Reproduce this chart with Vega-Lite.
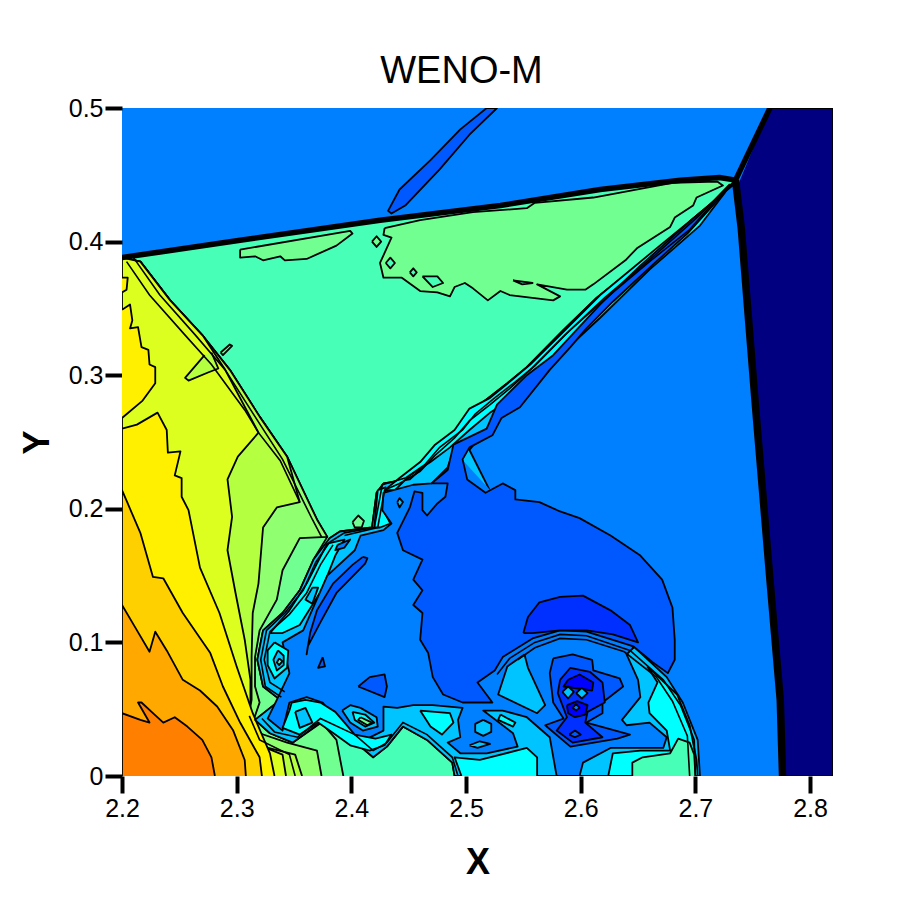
{"$schema":"https://vega.github.io/schema/vega-lite/v6.json","width":711,"height":668,"autosize":"none","padding":{"left":122,"top":108,"right":69,"bottom":126},"background":"white","view":{"fill":"#0080ff","stroke":null},"title":{"text":"WENO-M","font":"Liberation Sans","fontSize":38,"fontWeight":"normal","color":"black","dx":-16,"offset":5},
"datasets":{
"fills":[
{"p":"n","l":0,"x":2.765,"y":0.5},{"p":"n","l":0,"x":2.82,"y":0.5},{"p":"n","l":0,"x":2.82,"y":0},{"p":"n","l":0,"x":2.776,"y":0},{"p":"n","l":0,"x":2.774,"y":0.057},{"p":"n","l":0,"x":2.765,"y":0.147},{"p":"n","l":0,"x":2.752,"y":0.281},{"p":"n","l":0,"x":2.737,"y":0.442},
{"p":"st","l":2,"x":2.518,"y":0.5},{"p":"st","l":2,"x":2.527,"y":0.5},{"p":"st","l":2,"x":2.503,"y":0.48},{"p":"st","l":2,"x":2.477,"y":0.454},{"p":"st","l":2,"x":2.447,"y":0.427},{"p":"st","l":2,"x":2.435,"y":0.421},{"p":"st","l":2,"x":2.432,"y":0.423},{"p":"st","l":2,"x":2.442,"y":0.439},{"p":"st","l":2,"x":2.469,"y":0.461},{"p":"st","l":2,"x":2.495,"y":0.484},{"p":"st","l":2,"x":2.518,"y":0.5},
{"p":"a","l":6,"x":2.2,"y":0},{"p":"a","l":6,"x":2.2,"y":0.388},{"p":"a","l":6,"x":2.303,"y":0.401},{"p":"a","l":6,"x":2.425,"y":0.416},{"p":"a","l":6,"x":2.53,"y":0.427},{"p":"a","l":6,"x":2.617,"y":0.439},{"p":"a","l":6,"x":2.687,"y":0.446},{"p":"a","l":6,"x":2.721,"y":0.448},{"p":"a","l":6,"x":2.735,"y":0.446},{"p":"a","l":6,"x":2.695,"y":0.412},{"p":"a","l":6,"x":2.658,"y":0.388},{"p":"a","l":6,"x":2.614,"y":0.358},{"p":"a","l":6,"x":2.585,"y":0.334},{"p":"a","l":6,"x":2.553,"y":0.306},{"p":"a","l":6,"x":2.536,"y":0.294},{"p":"a","l":6,"x":2.515,"y":0.28},{"p":"a","l":6,"x":2.506,"y":0.274},{"p":"a","l":6,"x":2.495,"y":0.259},{"p":"a","l":6,"x":2.486,"y":0.253},{"p":"a","l":6,"x":2.47,"y":0.243},{"p":"a","l":6,"x":2.46,"y":0.229},{"p":"a","l":6,"x":2.451,"y":0.222},{"p":"a","l":6,"x":2.428,"y":0.219},{"p":"a","l":6,"x":2.422,"y":0.212},{"p":"a","l":6,"x":2.418,"y":0.186},{"p":"a","l":6,"x":2.39,"y":0.183},{"p":"a","l":6,"x":2.381,"y":0.178},{"p":"a","l":6,"x":2.353,"y":0.025},{"p":"a","l":6,"x":2.373,"y":0.04},{"p":"a","l":6,"x":2.401,"y":0.027},{"p":"a","l":6,"x":2.419,"y":0.014},{"p":"a","l":6,"x":2.431,"y":0.022},{"p":"a","l":6,"x":2.445,"y":0.037},{"p":"a","l":6,"x":2.466,"y":0.027},{"p":"a","l":6,"x":2.488,"y":0.01},{"p":"a","l":6,"x":2.49,"y":0},
{"p":"f7","l":7,"x":2.2,"y":0},{"p":"f7","l":7,"x":2.2,"y":0.388},{"p":"f7","l":7,"x":2.216,"y":0.385},{"p":"f7","l":7,"x":2.242,"y":0.356},{"p":"f7","l":7,"x":2.271,"y":0.329},{"p":"f7","l":7,"x":2.294,"y":0.304},{"p":"f7","l":7,"x":2.32,"y":0.269},{"p":"f7","l":7,"x":2.344,"y":0.239},{"p":"f7","l":7,"x":2.37,"y":0.192},{"p":"f7","l":7,"x":2.379,"y":0.179},{"p":"f7","l":7,"x":2.367,"y":0.162},{"p":"f7","l":7,"x":2.355,"y":0.139},{"p":"f7","l":7,"x":2.34,"y":0.122},{"p":"f7","l":7,"x":2.323,"y":0.109},{"p":"f7","l":7,"x":2.318,"y":0.087},{"p":"f7","l":7,"x":2.323,"y":0.067},{"p":"f7","l":7,"x":2.338,"y":0.057},{"p":"f7","l":7,"x":2.316,"y":0.042},{"p":"f7","l":7,"x":2.329,"y":0.032},{"p":"f7","l":7,"x":2.349,"y":0.025},{"p":"f7","l":7,"x":2.374,"y":0.04},{"p":"f7","l":7,"x":2.387,"y":0.027},{"p":"f7","l":7,"x":2.393,"y":0},
{"p":"f8","l":8,"x":2.2,"y":0},{"p":"f8","l":8,"x":2.2,"y":0.388},{"p":"f8","l":8,"x":2.216,"y":0.385},{"p":"f8","l":8,"x":2.242,"y":0.356},{"p":"f8","l":8,"x":2.271,"y":0.329},{"p":"f8","l":8,"x":2.294,"y":0.304},{"p":"f8","l":8,"x":2.32,"y":0.269},{"p":"f8","l":8,"x":2.344,"y":0.239},{"p":"f8","l":8,"x":2.37,"y":0.192},{"p":"f8","l":8,"x":2.379,"y":0.179},{"p":"f8","l":8,"x":2.355,"y":0.178},{"p":"f8","l":8,"x":2.34,"y":0.154},{"p":"f8","l":8,"x":2.335,"y":0.132},{"p":"f8","l":8,"x":2.32,"y":0.109},{"p":"f8","l":8,"x":2.316,"y":0.089},{"p":"f8","l":8,"x":2.316,"y":0.067},{"p":"f8","l":8,"x":2.32,"y":0.055},{"p":"f8","l":8,"x":2.314,"y":0.04},{"p":"f8","l":8,"x":2.32,"y":0.032},{"p":"f8","l":8,"x":2.344,"y":0.025},{"p":"f8","l":8,"x":2.37,"y":0.019},{"p":"f8","l":8,"x":2.374,"y":0},
{"p":"f9","l":9,"x":2.2,"y":0},{"p":"f9","l":9,"x":2.2,"y":0.388},{"p":"f9","l":9,"x":2.216,"y":0.385},{"p":"f9","l":9,"x":2.242,"y":0.356},{"p":"f9","l":9,"x":2.271,"y":0.329},{"p":"f9","l":9,"x":2.294,"y":0.304},{"p":"f9","l":9,"x":2.32,"y":0.269},{"p":"f9","l":9,"x":2.344,"y":0.239},{"p":"f9","l":9,"x":2.355,"y":0.205},{"p":"f9","l":9,"x":2.335,"y":0.201},{"p":"f9","l":9,"x":2.323,"y":0.186},{"p":"f9","l":9,"x":2.319,"y":0.144},{"p":"f9","l":9,"x":2.314,"y":0.122},{"p":"f9","l":9,"x":2.313,"y":0.089},{"p":"f9","l":9,"x":2.313,"y":0.057},{"p":"f9","l":9,"x":2.309,"y":0.037},{"p":"f9","l":9,"x":2.323,"y":0.022},{"p":"f9","l":9,"x":2.351,"y":0.016},{"p":"f9","l":9,"x":2.357,"y":0},
{"p":"f10","l":10,"x":2.2,"y":0},{"p":"f10","l":10,"x":2.2,"y":0.388},{"p":"f10","l":10,"x":2.216,"y":0.385},{"p":"f10","l":10,"x":2.242,"y":0.356},{"p":"f10","l":10,"x":2.271,"y":0.329},{"p":"f10","l":10,"x":2.29,"y":0.304},{"p":"f10","l":10,"x":2.319,"y":0.257},{"p":"f10","l":10,"x":2.301,"y":0.239},{"p":"f10","l":10,"x":2.292,"y":0.222},{"p":"f10","l":10,"x":2.296,"y":0.194},{"p":"f10","l":10,"x":2.292,"y":0.169},{"p":"f10","l":10,"x":2.299,"y":0.137},{"p":"f10","l":10,"x":2.307,"y":0.102},{"p":"f10","l":10,"x":2.312,"y":0.072},{"p":"f10","l":10,"x":2.312,"y":0.057},{"p":"f10","l":10,"x":2.309,"y":0.038},{"p":"f10","l":10,"x":2.323,"y":0.022},{"p":"f10","l":10,"x":2.34,"y":0.016},{"p":"f10","l":10,"x":2.343,"y":0},
{"p":"lime","l":9,"x":2.272,"y":0.315},{"p":"lime","l":9,"x":2.255,"y":0.298},{"p":"lime","l":9,"x":2.258,"y":0.296},{"p":"lime","l":9,"x":2.275,"y":0.302},{"p":"lime","l":9,"x":2.284,"y":0.305},{"p":"lime","l":9,"x":2.278,"y":0.317},
{"p":"f11","l":11,"x":2.2,"y":0},{"p":"f11","l":11,"x":2.2,"y":0.26},{"p":"f11","l":11,"x":2.213,"y":0.263},{"p":"f11","l":11,"x":2.231,"y":0.272},{"p":"f11","l":11,"x":2.239,"y":0.259},{"p":"f11","l":11,"x":2.24,"y":0.242},{"p":"f11","l":11,"x":2.251,"y":0.243},{"p":"f11","l":11,"x":2.246,"y":0.225},{"p":"f11","l":11,"x":2.252,"y":0.223},{"p":"f11","l":11,"x":2.252,"y":0.209},{"p":"f11","l":11,"x":2.258,"y":0.199},{"p":"f11","l":11,"x":2.268,"y":0.156},{"p":"f11","l":11,"x":2.285,"y":0.122},{"p":"f11","l":11,"x":2.3,"y":0.082},{"p":"f11","l":11,"x":2.314,"y":0.047},{"p":"f11","l":11,"x":2.329,"y":0.017},{"p":"f11","l":11,"x":2.333,"y":0},
{"p":"f11t","l":11,"x":2.2,"y":0.349},{"p":"f11t","l":11,"x":2.207,"y":0.353},{"p":"f11t","l":11,"x":2.209,"y":0.341},{"p":"f11t","l":11,"x":2.207,"y":0.335},{"p":"f11t","l":11,"x":2.214,"y":0.336},{"p":"f11t","l":11,"x":2.217,"y":0.321},{"p":"f11t","l":11,"x":2.223,"y":0.319},{"p":"f11t","l":11,"x":2.224,"y":0.308},{"p":"f11t","l":11,"x":2.229,"y":0.306},{"p":"f11t","l":11,"x":2.229,"y":0.294},{"p":"f11t","l":11,"x":2.218,"y":0.281},{"p":"f11t","l":11,"x":2.2,"y":0.268},
{"p":"f11s","l":11,"x":2.2,"y":0.373},{"p":"f11s","l":11,"x":2.205,"y":0.373},{"p":"f11s","l":11,"x":2.204,"y":0.364},{"p":"f11s","l":11,"x":2.2,"y":0.362},
{"p":"f12","l":12,"x":2.2,"y":0},{"p":"f12","l":12,"x":2.2,"y":0.214},{"p":"f12","l":12,"x":2.205,"y":0.204},{"p":"f12","l":12,"x":2.216,"y":0.182},{"p":"f12","l":12,"x":2.227,"y":0.149},{"p":"f12","l":12,"x":2.236,"y":0.148},{"p":"f12","l":12,"x":2.253,"y":0.122},{"p":"f12","l":12,"x":2.277,"y":0.092},{"p":"f12","l":12,"x":2.288,"y":0.067},{"p":"f12","l":12,"x":2.303,"y":0.04},{"p":"f12","l":12,"x":2.32,"y":0.014},{"p":"f12","l":12,"x":2.322,"y":0},
{"p":"f13","l":13,"x":2.2,"y":0},{"p":"f13","l":13,"x":2.2,"y":0.128},{"p":"f13","l":13,"x":2.211,"y":0.112},{"p":"f13","l":13,"x":2.224,"y":0.093},{"p":"f13","l":13,"x":2.229,"y":0.108},{"p":"f13","l":13,"x":2.239,"y":0.094},{"p":"f13","l":13,"x":2.253,"y":0.072},{"p":"f13","l":13,"x":2.268,"y":0.064},{"p":"f13","l":13,"x":2.283,"y":0.052},{"p":"f13","l":13,"x":2.297,"y":0.034},{"p":"f13","l":13,"x":2.307,"y":0.012},{"p":"f13","l":13,"x":2.308,"y":0},
{"p":"f14","l":14,"x":2.2,"y":0},{"p":"f14","l":14,"x":2.2,"y":0.047},{"p":"f14","l":14,"x":2.216,"y":0.042},{"p":"f14","l":14,"x":2.224,"y":0.04},{"p":"f14","l":14,"x":2.214,"y":0.055},{"p":"f14","l":14,"x":2.217,"y":0.055},{"p":"f14","l":14,"x":2.227,"y":0.047},{"p":"f14","l":14,"x":2.236,"y":0.04},{"p":"f14","l":14,"x":2.246,"y":0.044},{"p":"f14","l":14,"x":2.257,"y":0.037},{"p":"f14","l":14,"x":2.27,"y":0.027},{"p":"f14","l":14,"x":2.278,"y":0.014},{"p":"f14","l":14,"x":2.281,"y":0},
{"p":"mini","l":7,"x":2.286,"y":0.317},{"p":"mini","l":7,"x":2.294,"y":0.323},{"p":"mini","l":7,"x":2.296,"y":0.322},{"p":"mini","l":7,"x":2.288,"y":0.315},{"p":"mini","l":7,"x":2.286,"y":0.317},
{"p":"g","l":7,"x":2.429,"y":0.41},{"p":"g","l":7,"x":2.46,"y":0.416},{"p":"g","l":7,"x":2.506,"y":0.422},{"p":"g","l":7,"x":2.553,"y":0.425},{"p":"g","l":7,"x":2.56,"y":0.429},{"p":"g","l":7,"x":2.611,"y":0.433},{"p":"g","l":7,"x":2.68,"y":0.444},{"p":"g","l":7,"x":2.719,"y":0.445},{"p":"g","l":7,"x":2.724,"y":0.442},{"p":"g","l":7,"x":2.701,"y":0.433},{"p":"g","l":7,"x":2.698,"y":0.427},{"p":"g","l":7,"x":2.682,"y":0.418},{"p":"g","l":7,"x":2.678,"y":0.411},{"p":"g","l":7,"x":2.649,"y":0.395},{"p":"g","l":7,"x":2.639,"y":0.386},{"p":"g","l":7,"x":2.611,"y":0.368},{"p":"g","l":7,"x":2.604,"y":0.364},{"p":"g","l":7,"x":2.588,"y":0.364},{"p":"g","l":7,"x":2.562,"y":0.368},{"p":"g","l":7,"x":2.582,"y":0.359},{"p":"g","l":7,"x":2.576,"y":0.356},{"p":"g","l":7,"x":2.538,"y":0.36},{"p":"g","l":7,"x":2.53,"y":0.363},{"p":"g","l":7,"x":2.519,"y":0.356},{"p":"g","l":7,"x":2.506,"y":0.365},{"p":"g","l":7,"x":2.499,"y":0.369},{"p":"g","l":7,"x":2.49,"y":0.366},{"p":"g","l":7,"x":2.486,"y":0.359},{"p":"g","l":7,"x":2.475,"y":0.362},{"p":"g","l":7,"x":2.46,"y":0.363},{"p":"g","l":7,"x":2.444,"y":0.373},{"p":"g","l":7,"x":2.428,"y":0.373},{"p":"g","l":7,"x":2.425,"y":0.384},{"p":"g","l":7,"x":2.435,"y":0.403},{"p":"g","l":7,"x":2.428,"y":0.405},{"p":"g","l":7,"x":2.429,"y":0.41},
{"p":"gb","l":7,"x":2.303,"y":0.394},{"p":"gb","l":7,"x":2.399,"y":0.408},{"p":"gb","l":7,"x":2.401,"y":0.406},{"p":"gb","l":7,"x":2.387,"y":0.397},{"p":"gb","l":7,"x":2.361,"y":0.387},{"p":"gb","l":7,"x":2.342,"y":0.386},{"p":"gb","l":7,"x":2.338,"y":0.389},{"p":"gb","l":7,"x":2.323,"y":0.386},{"p":"gb","l":7,"x":2.316,"y":0.389},{"p":"gb","l":7,"x":2.303,"y":0.388},{"p":"gb","l":7,"x":2.303,"y":0.394},
{"p":"h1","l":7,"x":2.418,"y":0.4},{"p":"h1","l":7,"x":2.422,"y":0.404},{"p":"h1","l":7,"x":2.426,"y":0.4},{"p":"h1","l":7,"x":2.422,"y":0.396},{"p":"h1","l":7,"x":2.418,"y":0.4},
{"p":"h2","l":6,"x":2.43,"y":0.384},{"p":"h2","l":6,"x":2.434,"y":0.388},{"p":"h2","l":6,"x":2.438,"y":0.384},{"p":"h2","l":6,"x":2.434,"y":0.38},{"p":"h2","l":6,"x":2.43,"y":0.384},
{"p":"h3","l":6,"x":2.451,"y":0.377},{"p":"h3","l":6,"x":2.454,"y":0.38},{"p":"h3","l":6,"x":2.457,"y":0.377},{"p":"h3","l":6,"x":2.454,"y":0.374},{"p":"h3","l":6,"x":2.451,"y":0.377},
{"p":"h4","l":6,"x":2.462,"y":0.374},{"p":"h4","l":6,"x":2.475,"y":0.374},{"p":"h4","l":6,"x":2.48,"y":0.369},{"p":"h4","l":6,"x":2.471,"y":0.366},{"p":"h4","l":6,"x":2.462,"y":0.374},
{"p":"h5","l":6,"x":2.541,"y":0.371},{"p":"h5","l":6,"x":2.558,"y":0.369},{"p":"h5","l":6,"x":2.549,"y":0.368},{"p":"h5","l":6,"x":2.541,"y":0.371},
{"p":"cx","l":4,"x":2.735,"y":0.446},{"p":"cx","l":4,"x":2.695,"y":0.412},{"p":"cx","l":4,"x":2.658,"y":0.388},{"p":"cx","l":4,"x":2.614,"y":0.358},{"p":"cx","l":4,"x":2.585,"y":0.334},{"p":"cx","l":4,"x":2.553,"y":0.306},{"p":"cx","l":4,"x":2.536,"y":0.294},{"p":"cx","l":4,"x":2.515,"y":0.28},{"p":"cx","l":4,"x":2.506,"y":0.274},{"p":"cx","l":4,"x":2.495,"y":0.259},{"p":"cx","l":4,"x":2.486,"y":0.253},{"p":"cx","l":4,"x":2.47,"y":0.243},{"p":"cx","l":4,"x":2.46,"y":0.229},{"p":"cx","l":4,"x":2.451,"y":0.222},{"p":"cx","l":4,"x":2.428,"y":0.219},{"p":"cx","l":4,"x":2.422,"y":0.212},{"p":"cx","l":4,"x":2.418,"y":0.186},{"p":"cx","l":4,"x":2.39,"y":0.183},{"p":"cx","l":4,"x":2.381,"y":0.178},{"p":"cx","l":4,"x":2.367,"y":0.162},{"p":"cx","l":4,"x":2.355,"y":0.139},{"p":"cx","l":4,"x":2.34,"y":0.122},{"p":"cx","l":4,"x":2.323,"y":0.109},{"p":"cx","l":4,"x":2.318,"y":0.087},{"p":"cx","l":4,"x":2.323,"y":0.067},{"p":"cx","l":4,"x":2.338,"y":0.057},{"p":"cx","l":4,"x":2.316,"y":0.042},{"p":"cx","l":4,"x":2.329,"y":0.032},{"p":"cx","l":4,"x":2.349,"y":0.025},{"p":"cx","l":4,"x":2.373,"y":0.04},{"p":"cx","l":4,"x":2.401,"y":0.027},{"p":"cx","l":4,"x":2.419,"y":0.014},{"p":"cx","l":4,"x":2.431,"y":0.022},{"p":"cx","l":4,"x":2.445,"y":0.037},{"p":"cx","l":4,"x":2.466,"y":0.027},{"p":"cx","l":4,"x":2.488,"y":0.01},{"p":"cx","l":4,"x":2.49,"y":0},{"p":"cx","l":4,"x":2.704,"y":0},{"p":"cx","l":4,"x":2.702,"y":0.027},{"p":"cx","l":4,"x":2.689,"y":0.055},{"p":"cx","l":4,"x":2.675,"y":0.074},{"p":"cx","l":4,"x":2.646,"y":0.097},{"p":"cx","l":4,"x":2.605,"y":0.108},{"p":"cx","l":4,"x":2.582,"y":0.109},{"p":"cx","l":4,"x":2.503,"y":0.244},{"p":"cx","l":4,"x":2.518,"y":0.26},{"p":"cx","l":4,"x":2.553,"y":0.3},{"p":"cx","l":4,"x":2.617,"y":0.353},{"p":"cx","l":4,"x":2.695,"y":0.415},{"p":"cx","l":4,"x":2.735,"y":0.444},
{"p":"cy1","l":5,"x":2.429,"y":0.214},{"p":"cy1","l":5,"x":2.442,"y":0.223},{"p":"cy1","l":5,"x":2.46,"y":0.235},{"p":"cy1","l":5,"x":2.473,"y":0.248},{"p":"cy1","l":5,"x":2.49,"y":0.259},{"p":"cy1","l":5,"x":2.503,"y":0.275},{"p":"cy1","l":5,"x":2.521,"y":0.283},{"p":"cy1","l":5,"x":2.538,"y":0.295},{"p":"cy1","l":5,"x":2.556,"y":0.308},{"p":"cy1","l":5,"x":2.582,"y":0.33},{"p":"cy1","l":5,"x":2.617,"y":0.36},{"p":"cy1","l":5,"x":2.669,"y":0.397},{"p":"cy1","l":5,"x":2.726,"y":0.437},{"p":"cy1","l":5,"x":2.704,"y":0.412},{"p":"cy1","l":5,"x":2.66,"y":0.379},{"p":"cy1","l":5,"x":2.617,"y":0.343},{"p":"cy1","l":5,"x":2.582,"y":0.315},{"p":"cy1","l":5,"x":2.56,"y":0.298},{"p":"cy1","l":5,"x":2.538,"y":0.281},{"p":"cy1","l":5,"x":2.521,"y":0.272},{"p":"cy1","l":5,"x":2.503,"y":0.259},{"p":"cy1","l":5,"x":2.486,"y":0.246},{"p":"cy1","l":5,"x":2.469,"y":0.235},{"p":"cy1","l":5,"x":2.451,"y":0.225},{"p":"cy1","l":5,"x":2.438,"y":0.214},{"p":"cy1","l":5,"x":2.429,"y":0.214},
{"p":"cy2","l":5,"x":2.423,"y":0.214},{"p":"cy2","l":5,"x":2.43,"y":0.216},{"p":"cy2","l":5,"x":2.428,"y":0.199},{"p":"cy2","l":5,"x":2.434,"y":0.189},{"p":"cy2","l":5,"x":2.425,"y":0.186},{"p":"cy2","l":5,"x":2.42,"y":0.186},{"p":"cy2","l":5,"x":2.423,"y":0.214},
{"p":"cy3","l":5,"x":2.379,"y":0.174},{"p":"cy3","l":5,"x":2.373,"y":0.164},{"p":"cy3","l":5,"x":2.361,"y":0.144},{"p":"cy3","l":5,"x":2.346,"y":0.124},{"p":"cy3","l":5,"x":2.329,"y":0.107},{"p":"cy3","l":5,"x":2.34,"y":0.107},{"p":"cy3","l":5,"x":2.355,"y":0.113},{"p":"cy3","l":5,"x":2.374,"y":0.139},{"p":"cy3","l":5,"x":2.386,"y":0.165},{"p":"cy3","l":5,"x":2.394,"y":0.177},{"p":"cy3","l":5,"x":2.379,"y":0.174},
{"p":"lens","l":4,"x":2.366,"y":0.141},{"p":"lens","l":4,"x":2.371,"y":0.141},{"p":"lens","l":4,"x":2.366,"y":0.129},{"p":"lens","l":4,"x":2.36,"y":0.132},{"p":"lens","l":4,"x":2.366,"y":0.141},
{"p":"i3","l":3,"x":2.489,"y":0.244},{"p":"i3","l":3,"x":2.484,"y":0.231},{"p":"i3","l":3,"x":2.47,"y":0.219},{"p":"i3","l":3,"x":2.454,"y":0.218},{"p":"i3","l":3,"x":2.428,"y":0.212},{"p":"i3","l":3,"x":2.427,"y":0.199},{"p":"i3","l":3,"x":2.435,"y":0.189},{"p":"i3","l":3,"x":2.428,"y":0.184},{"p":"i3","l":3,"x":2.408,"y":0.18},{"p":"i3","l":3,"x":2.403,"y":0.169},{"p":"i3","l":3,"x":2.379,"y":0.15},{"p":"i3","l":3,"x":2.358,"y":0.109},{"p":"i3","l":3,"x":2.34,"y":0.1},{"p":"i3","l":3,"x":2.346,"y":0.077},{"p":"i3","l":3,"x":2.335,"y":0.057},{"p":"i3","l":3,"x":2.327,"y":0.043},{"p":"i3","l":3,"x":2.34,"y":0.034},{"p":"i3","l":3,"x":2.346,"y":0.055},{"p":"i3","l":3,"x":2.361,"y":0.059},{"p":"i3","l":3,"x":2.375,"y":0.055},{"p":"i3","l":3,"x":2.387,"y":0.042},{"p":"i3","l":3,"x":2.399,"y":0.029},{"p":"i3","l":3,"x":2.414,"y":0.028},{"p":"i3","l":3,"x":2.428,"y":0.034},{"p":"i3","l":3,"x":2.428,"y":0.052},{"p":"i3","l":3,"x":2.44,"y":0.051},{"p":"i3","l":3,"x":2.454,"y":0.053},{"p":"i3","l":3,"x":2.471,"y":0.053},{"p":"i3","l":3,"x":2.497,"y":0.051},{"p":"i3","l":3,"x":2.493,"y":0.042},{"p":"i3","l":3,"x":2.495,"y":0.029},{"p":"i3","l":3,"x":2.484,"y":0.025},{"p":"i3","l":3,"x":2.495,"y":0.017},{"p":"i3","l":3,"x":2.518,"y":0.017},{"p":"i3","l":3,"x":2.545,"y":0.022},{"p":"i3","l":3,"x":2.541,"y":0.032},{"p":"i3","l":3,"x":2.515,"y":0.049},{"p":"i3","l":3,"x":2.532,"y":0.049},{"p":"i3","l":3,"x":2.553,"y":0.044},{"p":"i3","l":3,"x":2.573,"y":0.029},{"p":"i3","l":3,"x":2.579,"y":0},{"p":"i3","l":3,"x":2.599,"y":0},{"p":"i3","l":3,"x":2.602,"y":0.01},{"p":"i3","l":3,"x":2.626,"y":0.021},{"p":"i3","l":3,"x":2.672,"y":0.021},{"p":"i3","l":3,"x":2.675,"y":0.029},{"p":"i3","l":3,"x":2.66,"y":0.04},{"p":"i3","l":3,"x":2.64,"y":0.038},{"p":"i3","l":3,"x":2.636,"y":0.042},{"p":"i3","l":3,"x":2.652,"y":0.059},{"p":"i3","l":3,"x":2.65,"y":0.072},{"p":"i3","l":3,"x":2.64,"y":0.091},{"p":"i3","l":3,"x":2.646,"y":0.096},{"p":"i3","l":3,"x":2.617,"y":0.124},
{"p":"sk","l":2,"x":2.41,"y":0.164},{"p":"sk","l":2,"x":2.414,"y":0.163},{"p":"sk","l":2,"x":2.412,"y":0.159},{"p":"sk","l":2,"x":2.387,"y":0.137},{"p":"sk","l":2,"x":2.373,"y":0.115},{"p":"sk","l":2,"x":2.362,"y":0.097},{"p":"sk","l":2,"x":2.361,"y":0.091},{"p":"sk","l":2,"x":2.364,"y":0.107},{"p":"sk","l":2,"x":2.37,"y":0.124},{"p":"sk","l":2,"x":2.384,"y":0.144},{"p":"sk","l":2,"x":2.401,"y":0.158},{"p":"sk","l":2,"x":2.41,"y":0.164},
{"p":"l2","l":2,"x":2.735,"y":0.444},{"p":"l2","l":2,"x":2.728,"y":0.439},{"p":"l2","l":2,"x":2.693,"y":0.406},{"p":"l2","l":2,"x":2.662,"y":0.382},{"p":"l2","l":2,"x":2.628,"y":0.355},{"p":"l2","l":2,"x":2.605,"y":0.335},{"p":"l2","l":2,"x":2.591,"y":0.321},{"p":"l2","l":2,"x":2.573,"y":0.304},{"p":"l2","l":2,"x":2.547,"y":0.276},{"p":"l2","l":2,"x":2.531,"y":0.268},{"p":"l2","l":2,"x":2.523,"y":0.255},{"p":"l2","l":2,"x":2.503,"y":0.246},{"p":"l2","l":2,"x":2.497,"y":0.237},{"p":"l2","l":2,"x":2.501,"y":0.222},{"p":"l2","l":2,"x":2.517,"y":0.212},{"p":"l2","l":2,"x":2.532,"y":0.219},{"p":"l2","l":2,"x":2.543,"y":0.214},{"p":"l2","l":2,"x":2.543,"y":0.207},{"p":"l2","l":2,"x":2.564,"y":0.205},{"p":"l2","l":2,"x":2.582,"y":0.198},{"p":"l2","l":2,"x":2.599,"y":0.193},{"p":"l2","l":2,"x":2.626,"y":0.18},{"p":"l2","l":2,"x":2.652,"y":0.165},{"p":"l2","l":2,"x":2.671,"y":0.147},{"p":"l2","l":2,"x":2.68,"y":0.126},{"p":"l2","l":2,"x":2.682,"y":0.102},{"p":"l2","l":2,"x":2.682,"y":0.087},{"p":"l2","l":2,"x":2.676,"y":0.077},{"p":"l2","l":2,"x":2.663,"y":0.085},{"p":"l2","l":2,"x":2.646,"y":0.097},{"p":"l2","l":2,"x":2.605,"y":0.108},{"p":"l2","l":2,"x":2.582,"y":0.109},{"p":"l2","l":2,"x":2.558,"y":0.103},{"p":"l2","l":2,"x":2.532,"y":0.089},{"p":"l2","l":2,"x":2.525,"y":0.079},{"p":"l2","l":2,"x":2.51,"y":0.07},{"p":"l2","l":2,"x":2.523,"y":0.055},{"p":"l2","l":2,"x":2.497,"y":0.055},{"p":"l2","l":2,"x":2.48,"y":0.061},{"p":"l2","l":2,"x":2.471,"y":0.074},{"p":"l2","l":2,"x":2.467,"y":0.092},{"p":"l2","l":2,"x":2.46,"y":0.102},{"p":"l2","l":2,"x":2.462,"y":0.122},{"p":"l2","l":2,"x":2.454,"y":0.128},{"p":"l2","l":2,"x":2.462,"y":0.139},{"p":"l2","l":2,"x":2.454,"y":0.147},{"p":"l2","l":2,"x":2.462,"y":0.162},{"p":"l2","l":2,"x":2.445,"y":0.169},{"p":"l2","l":2,"x":2.44,"y":0.182},{"p":"l2","l":2,"x":2.451,"y":0.201},{"p":"l2","l":2,"x":2.455,"y":0.213},{"p":"l2","l":2,"x":2.462,"y":0.212},{"p":"l2","l":2,"x":2.462,"y":0.199},{"p":"l2","l":2,"x":2.466,"y":0.195},{"p":"l2","l":2,"x":2.475,"y":0.204},{"p":"l2","l":2,"x":2.482,"y":0.209},{"p":"l2","l":2,"x":2.484,"y":0.219},{"p":"l2","l":2,"x":2.47,"y":0.219},{"p":"l2","l":2,"x":2.484,"y":0.229},{"p":"l2","l":2,"x":2.489,"y":0.248},{"p":"l2","l":2,"x":2.518,"y":0.26},{"p":"l2","l":2,"x":2.527,"y":0.278},{"p":"l2","l":2,"x":2.553,"y":0.3},{"p":"l2","l":2,"x":2.576,"y":0.315},{"p":"l2","l":2,"x":2.617,"y":0.353},{"p":"l2","l":2,"x":2.652,"y":0.382},{"p":"l2","l":2,"x":2.695,"y":0.415},{"p":"l2","l":2,"x":2.735,"y":0.444},
{"p":"cap","l":1,"x":2.55,"y":0.107},{"p":"cap","l":1,"x":2.554,"y":0.119},{"p":"cap","l":1,"x":2.564,"y":0.13},{"p":"cap","l":1,"x":2.582,"y":0.134},{"p":"cap","l":1,"x":2.602,"y":0.135},{"p":"cap","l":1,"x":2.626,"y":0.124},{"p":"cap","l":1,"x":2.643,"y":0.113},{"p":"cap","l":1,"x":2.65,"y":0.1},{"p":"cap","l":1,"x":2.628,"y":0.106},{"p":"cap","l":1,"x":2.605,"y":0.109},{"p":"cap","l":1,"x":2.582,"y":0.109},{"p":"cap","l":1,"x":2.558,"y":0.107},{"p":"cap","l":1,"x":2.55,"y":0.107},
{"p":"pa","l":4,"x":2.551,"y":0.091},{"p":"pa","l":4,"x":2.536,"y":0.082},{"p":"pa","l":4,"x":2.528,"y":0.061},{"p":"pa","l":4,"x":2.562,"y":0.047},{"p":"pa","l":4,"x":2.569,"y":0.053},{"p":"pa","l":4,"x":2.554,"y":0.081},{"p":"pa","l":4,"x":2.551,"y":0.091},
{"p":"lb","l":5,"x":2.46,"y":0.049},{"p":"lb","l":5,"x":2.486,"y":0.047},{"p":"lb","l":5,"x":2.489,"y":0.04},{"p":"lb","l":5,"x":2.479,"y":0.031},{"p":"lb","l":5,"x":2.469,"y":0.037},{"p":"lb","l":5,"x":2.46,"y":0.049},
{"p":"ov","l":4,"x":2.515,"y":0.042},{"p":"ov","l":4,"x":2.522,"y":0.039},{"p":"ov","l":4,"x":2.522,"y":0.033},{"p":"ov","l":4,"x":2.515,"y":0.03},{"p":"ov","l":4,"x":2.508,"y":0.033},{"p":"ov","l":4,"x":2.508,"y":0.039},{"p":"ov","l":4,"x":2.515,"y":0.042},
{"p":"ov2","l":4,"x":2.503,"y":0.023},{"p":"ov2","l":4,"x":2.512,"y":0.026},{"p":"ov2","l":4,"x":2.521,"y":0.024},{"p":"ov2","l":4,"x":2.51,"y":0.021},{"p":"ov2","l":4,"x":2.503,"y":0.023},
{"p":"cb","l":5,"x":2.496,"y":0},{"p":"cb","l":5,"x":2.49,"y":0.014},{"p":"cb","l":5,"x":2.512,"y":0.012},{"p":"cb","l":5,"x":2.553,"y":0.021},{"p":"cb","l":5,"x":2.562,"y":0.014},{"p":"cb","l":5,"x":2.562,"y":0},
{"p":"ln","l":5,"x":2.53,"y":0.046},{"p":"ln","l":5,"x":2.543,"y":0.04},{"p":"ln","l":5,"x":2.541,"y":0.037},{"p":"ln","l":5,"x":2.528,"y":0.042},{"p":"ln","l":5,"x":2.53,"y":0.046},
{"p":"crc","l":5,"x":2.658,"y":0.082},{"p":"crc","l":5,"x":2.667,"y":0.07},{"p":"crc","l":5,"x":2.659,"y":0.055},{"p":"crc","l":5,"x":2.66,"y":0.047},{"p":"crc","l":5,"x":2.675,"y":0.034},{"p":"crc","l":5,"x":2.678,"y":0.019},{"p":"crc","l":5,"x":2.652,"y":0.019},{"p":"crc","l":5,"x":2.628,"y":0.017},{"p":"crc","l":5,"x":2.624,"y":0},{"p":"crc","l":5,"x":2.702,"y":0},{"p":"crc","l":5,"x":2.701,"y":0.012},{"p":"crc","l":5,"x":2.695,"y":0.038},{"p":"crc","l":5,"x":2.684,"y":0.061},{"p":"crc","l":5,"x":2.658,"y":0.082},
{"p":"ra","l":6,"x":2.645,"y":0},{"p":"ra","l":6,"x":2.645,"y":0.01},{"p":"ra","l":6,"x":2.654,"y":0.014},{"p":"ra","l":6,"x":2.678,"y":0.017},{"p":"ra","l":6,"x":2.685,"y":0.028},{"p":"ra","l":6,"x":2.695,"y":0.025},{"p":"ra","l":6,"x":2.699,"y":0.016},{"p":"ra","l":6,"x":2.7,"y":0},
{"p":"c2","l":2,"x":2.576,"y":0.088},{"p":"c2","l":2,"x":2.593,"y":0.091},{"p":"c2","l":2,"x":2.61,"y":0.087},{"p":"c2","l":2,"x":2.611,"y":0.079},{"p":"c2","l":2,"x":2.634,"y":0.073},{"p":"c2","l":2,"x":2.637,"y":0.067},{"p":"c2","l":2,"x":2.619,"y":0.055},{"p":"c2","l":2,"x":2.619,"y":0.047},{"p":"c2","l":2,"x":2.605,"y":0.04},{"p":"c2","l":2,"x":2.643,"y":0.031},{"p":"c2","l":2,"x":2.632,"y":0.028},{"p":"c2","l":2,"x":2.591,"y":0.022},{"p":"c2","l":2,"x":2.569,"y":0.038},{"p":"c2","l":2,"x":2.585,"y":0.043},{"p":"c2","l":2,"x":2.576,"y":0.055},{"p":"c2","l":2,"x":2.573,"y":0.077},{"p":"c2","l":2,"x":2.576,"y":0.088},
{"p":"c1","l":1,"x":2.582,"y":0.072},{"p":"c1","l":1,"x":2.591,"y":0.081},{"p":"c1","l":1,"x":2.608,"y":0.078},{"p":"c1","l":1,"x":2.619,"y":0.07},{"p":"c1","l":1,"x":2.621,"y":0.055},{"p":"c1","l":1,"x":2.606,"y":0.048},{"p":"c1","l":1,"x":2.604,"y":0.04},{"p":"c1","l":1,"x":2.619,"y":0.029},{"p":"c1","l":1,"x":2.593,"y":0.025},{"p":"c1","l":1,"x":2.579,"y":0.034},{"p":"c1","l":1,"x":2.588,"y":0.044},{"p":"c1","l":1,"x":2.58,"y":0.062},{"p":"c1","l":1,"x":2.582,"y":0.072},
{"p":"c0","l":15,"x":2.589,"y":0.072},{"p":"c0","l":15,"x":2.599,"y":0.076},{"p":"c0","l":15,"x":2.611,"y":0.07},{"p":"c0","l":15,"x":2.61,"y":0.064},{"p":"c0","l":15,"x":2.585,"y":0.067},{"p":"c0","l":15,"x":2.589,"y":0.072},
{"p":"c0b","l":15,"x":2.588,"y":0.053},{"p":"c0b","l":15,"x":2.597,"y":0.056},{"p":"c0b","l":15,"x":2.606,"y":0.053},{"p":"c0b","l":15,"x":2.604,"y":0.046},{"p":"c0b","l":15,"x":2.595,"y":0.044},{"p":"c0b","l":15,"x":2.589,"y":0.047},{"p":"c0b","l":15,"x":2.588,"y":0.053},
{"p":"c0c","l":2,"x":2.59,"y":0.031},{"p":"c0c","l":2,"x":2.595,"y":0.034},{"p":"c0c","l":2,"x":2.6,"y":0.031},{"p":"c0c","l":2,"x":2.595,"y":0.029},{"p":"c0c","l":2,"x":2.59,"y":0.031},
{"p":"v1","l":4,"x":2.584,"y":0.063},{"p":"v1","l":4,"x":2.589,"y":0.067},{"p":"v1","l":4,"x":2.594,"y":0.063},{"p":"v1","l":4,"x":2.589,"y":0.058},{"p":"v1","l":4,"x":2.584,"y":0.063},
{"p":"v2","l":4,"x":2.596,"y":0.062},{"p":"v2","l":4,"x":2.601,"y":0.066},{"p":"v2","l":4,"x":2.606,"y":0.062},{"p":"v2","l":4,"x":2.601,"y":0.058},{"p":"v2","l":4,"x":2.596,"y":0.062},
{"p":"v3","l":3,"x":2.596,"y":0.054},{"p":"v3","l":3,"x":2.599,"y":0.051},{"p":"v3","l":3,"x":2.596,"y":0.049},{"p":"v3","l":3,"x":2.593,"y":0.051},{"p":"v3","l":3,"x":2.596,"y":0.054},
{"p":"w1","l":5,"x":2.333,"y":0.1},{"p":"w1","l":5,"x":2.345,"y":0.094},{"p":"w1","l":5,"x":2.344,"y":0.081},{"p":"w1","l":5,"x":2.333,"y":0.073},{"p":"w1","l":5,"x":2.327,"y":0.083},{"p":"w1","l":5,"x":2.327,"y":0.094},{"p":"w1","l":5,"x":2.333,"y":0.1},
{"p":"w2","l":4,"x":2.336,"y":0.094},{"p":"w2","l":4,"x":2.341,"y":0.09},{"p":"w2","l":4,"x":2.341,"y":0.083},{"p":"w2","l":4,"x":2.335,"y":0.079},{"p":"w2","l":4,"x":2.332,"y":0.087},{"p":"w2","l":4,"x":2.336,"y":0.094},
{"p":"w3","l":6,"x":2.337,"y":0.088},{"p":"w3","l":6,"x":2.34,"y":0.086},{"p":"w3","l":6,"x":2.337,"y":0.083},{"p":"w3","l":6,"x":2.335,"y":0.085},{"p":"w3","l":6,"x":2.337,"y":0.088},
{"p":"sw","l":5,"x":2.346,"y":0.049},{"p":"sw","l":5,"x":2.34,"y":0.036},{"p":"sw","l":5,"x":2.355,"y":0.031},{"p":"sw","l":5,"x":2.371,"y":0.04},{"p":"sw","l":5,"x":2.386,"y":0.031},{"p":"sw","l":5,"x":2.399,"y":0.023},{"p":"sw","l":5,"x":2.416,"y":0.019},{"p":"sw","l":5,"x":2.429,"y":0.023},{"p":"sw","l":5,"x":2.435,"y":0.031},{"p":"sw","l":5,"x":2.421,"y":0.028},{"p":"sw","l":5,"x":2.403,"y":0.031},{"p":"sw","l":5,"x":2.386,"y":0.048},{"p":"sw","l":5,"x":2.373,"y":0.055},{"p":"sw","l":5,"x":2.36,"y":0.057},{"p":"sw","l":5,"x":2.348,"y":0.055},{"p":"sw","l":5,"x":2.346,"y":0.049},
{"p":"sw2","l":4,"x":2.351,"y":0.048},{"p":"sw2","l":4,"x":2.36,"y":0.051},{"p":"sw2","l":4,"x":2.366,"y":0.04},{"p":"sw2","l":4,"x":2.355,"y":0.036},{"p":"sw2","l":4,"x":2.351,"y":0.048},
{"p":"x1","l":4,"x":2.392,"y":0.049},{"p":"x1","l":4,"x":2.399,"y":0.053},{"p":"x1","l":4,"x":2.408,"y":0.051},{"p":"x1","l":4,"x":2.422,"y":0.044},{"p":"x1","l":4,"x":2.423,"y":0.037},{"p":"x1","l":4,"x":2.41,"y":0.034},{"p":"x1","l":4,"x":2.399,"y":0.04},{"p":"x1","l":4,"x":2.392,"y":0.049},
{"p":"x2","l":5,"x":2.401,"y":0.048},{"p":"x2","l":5,"x":2.412,"y":0.046},{"p":"x2","l":5,"x":2.42,"y":0.04},{"p":"x2","l":5,"x":2.412,"y":0.037},{"p":"x2","l":5,"x":2.403,"y":0.042},{"p":"x2","l":5,"x":2.401,"y":0.048},
{"p":"x3","l":7,"x":2.408,"y":0.044},{"p":"x3","l":7,"x":2.418,"y":0.04},{"p":"x3","l":7,"x":2.414,"y":0.038},{"p":"x3","l":7,"x":2.406,"y":0.042},{"p":"x3","l":7,"x":2.408,"y":0.044},
{"p":"b1","l":2,"x":2.406,"y":0.067},{"p":"b1","l":2,"x":2.416,"y":0.074},{"p":"b1","l":2,"x":2.429,"y":0.076},{"p":"b1","l":2,"x":2.431,"y":0.067},{"p":"b1","l":2,"x":2.429,"y":0.059},{"p":"b1","l":2,"x":2.406,"y":0.067},
{"p":"b2","l":2,"x":2.375,"y":0.089},{"p":"b2","l":2,"x":2.377,"y":0.082},{"p":"b2","l":2,"x":2.371,"y":0.081},{"p":"b2","l":2,"x":2.375,"y":0.089},
{"p":"b3","l":3,"x":2.388,"y":0.173},{"p":"b3","l":3,"x":2.399,"y":0.177},{"p":"b3","l":3,"x":2.394,"y":0.171},{"p":"b3","l":3,"x":2.386,"y":0.169},{"p":"b3","l":3,"x":2.388,"y":0.173},
{"p":"b4","l":7,"x":2.401,"y":0.19},{"p":"b4","l":7,"x":2.406,"y":0.195},{"p":"b4","l":7,"x":2.411,"y":0.191},{"p":"b4","l":7,"x":2.409,"y":0.186},{"p":"b4","l":7,"x":2.403,"y":0.186},{"p":"b4","l":7,"x":2.401,"y":0.19},
{"p":"b5","l":4,"x":2.44,"y":0.205},{"p":"b5","l":4,"x":2.442,"y":0.208},{"p":"b5","l":4,"x":2.445,"y":0.205},{"p":"b5","l":4,"x":2.442,"y":0.201},{"p":"b5","l":4,"x":2.44,"y":0.205}
],
"lines":[
{"p":"s2","x":2.21,"y":0.388},{"p":"s2","x":2.233,"y":0.36},{"p":"s2","x":2.264,"y":0.33},{"p":"s2","x":2.29,"y":0.304},{"p":"s2","x":2.316,"y":0.269},{"p":"s2","x":2.34,"y":0.237},{"p":"s2","x":2.366,"y":0.192},{"p":"s2","x":2.374,"y":0.179},
{"p":"s3","x":2.204,"y":0.385},{"p":"s3","x":2.224,"y":0.36},{"p":"s3","x":2.255,"y":0.33},{"p":"s3","x":2.278,"y":0.308},{"p":"s3","x":2.307,"y":0.274},{"p":"s3","x":2.319,"y":0.257},{"p":"s3","x":2.338,"y":0.236},{"p":"s3","x":2.355,"y":0.205},
{"p":"arc2","x":2.7,"y":0},{"p":"arc2","x":2.699,"y":0.027},{"p":"arc2","x":2.687,"y":0.053},{"p":"arc2","x":2.672,"y":0.072},{"p":"arc2","x":2.643,"y":0.094},{"p":"arc2","x":2.605,"y":0.105},{"p":"arc2","x":2.582,"y":0.106},{"p":"arc2","x":2.56,"y":0.1},{"p":"arc2","x":2.538,"y":0.088},{"p":"arc2","x":2.527,"y":0.076},
{"p":"arc3","x":2.695,"y":0},{"p":"arc3","x":2.693,"y":0.03},{"p":"arc3","x":2.68,"y":0.056},{"p":"arc3","x":2.666,"y":0.074},{"p":"arc3","x":2.638,"y":0.093},{"p":"arc3","x":2.605,"y":0.102},{"p":"arc3","x":2.582,"y":0.103},{"p":"arc3","x":2.56,"y":0.096},{"p":"arc3","x":2.545,"y":0.087},
{"p":"b95","x":2.351,"y":0},{"p":"b95","x":2.346,"y":0.016},{"p":"b95","x":2.32,"y":0.027},{"p":"b95","x":2.311,"y":0.045},
{"p":"sl1","x":2.726,"y":0.439},{"p":"sl1","x":2.695,"y":0.409},{"p":"sl1","x":2.66,"y":0.385},{"p":"sl1","x":2.617,"y":0.354},{"p":"sl1","x":2.586,"y":0.33},{"p":"sl1","x":2.556,"y":0.304},{"p":"sl1","x":2.538,"y":0.29},{"p":"sl1","x":2.521,"y":0.278},{"p":"sl1","x":2.503,"y":0.266},{"p":"sl1","x":2.49,"y":0.253},{"p":"sl1","x":2.473,"y":0.24},{"p":"sl1","x":2.46,"y":0.228},{"p":"sl1","x":2.442,"y":0.219},{"p":"sl1","x":2.429,"y":0.214},{"p":"sl1","x":2.423,"y":0.186},{"p":"sl1","x":2.394,"y":0.18},
{"p":"sl2","x":2.73,"y":0.443},{"p":"sl2","x":2.704,"y":0.42},{"p":"sl2","x":2.665,"y":0.39},{"p":"sl2","x":2.621,"y":0.358},{"p":"sl2","x":2.591,"y":0.334},{"p":"sl2","x":2.56,"y":0.307},{"p":"sl2","x":2.543,"y":0.295},{"p":"sl2","x":2.525,"y":0.283},{"p":"sl2","x":2.508,"y":0.271},{"p":"sl2","x":2.497,"y":0.259},{"p":"sl2","x":2.477,"y":0.246},{"p":"sl2","x":2.464,"y":0.233},{"p":"sl2","x":2.447,"y":0.223},{"p":"sl2","x":2.427,"y":0.218},{"p":"sl2","x":2.42,"y":0.186},{"p":"sl2","x":2.394,"y":0.182},{"p":"sl2","x":2.381,"y":0.175},
{"p":"ll1","x":2.381,"y":0.175},{"p":"ll1","x":2.369,"y":0.16},{"p":"ll1","x":2.358,"y":0.139},{"p":"ll1","x":2.342,"y":0.122},{"p":"ll1","x":2.326,"y":0.109},{"p":"ll1","x":2.321,"y":0.087},{"p":"ll1","x":2.325,"y":0.067},{"p":"ll1","x":2.339,"y":0.059},
{"p":"ll2","x":2.384,"y":0.173},{"p":"ll2","x":2.373,"y":0.158},{"p":"ll2","x":2.361,"y":0.137},{"p":"ll2","x":2.346,"y":0.121},{"p":"ll2","x":2.329,"y":0.108},{"p":"ll2","x":2.324,"y":0.087},{"p":"ll2","x":2.329,"y":0.07},{"p":"ll2","x":2.342,"y":0.063},
{"p":"ll3","x":2.322,"y":0.043},{"p":"ll3","x":2.333,"y":0.033},{"p":"ll3","x":2.353,"y":0.029},{"p":"ll3","x":2.373,"y":0.043},{"p":"ll3","x":2.403,"y":0.031},{"p":"ll3","x":2.419,"y":0.019},{"p":"ll3","x":2.431,"y":0.025},{"p":"ll3","x":2.445,"y":0.04},{"p":"ll3","x":2.466,"y":0.031},{"p":"ll3","x":2.488,"y":0.014},{"p":"ll3","x":2.493,"y":0}
],
"shocks":[
{"p":"top","x":2.2,"y":0.388},{"p":"top","x":2.303,"y":0.401},{"p":"top","x":2.425,"y":0.416},{"p":"top","x":2.53,"y":0.427},{"p":"top","x":2.617,"y":0.439},{"p":"top","x":2.687,"y":0.446},{"p":"top","x":2.721,"y":0.448},{"p":"top","x":2.735,"y":0.446},
{"p":"up","x":2.765,"y":0.5},{"p":"up","x":2.735,"y":0.446},
{"p":"right","x":2.735,"y":0.446},{"p":"right","x":2.74,"y":0.41},{"p":"right","x":2.752,"y":0.281},{"p":"right","x":2.765,"y":0.147},{"p":"right","x":2.774,"y":0.057},{"p":"right","x":2.776,"y":0}
]
},
"layer":[
{"data":{"name":"fills"},"mark":{"type":"line","clip":true,"stroke":"black","strokeWidth":1.8,"strokeJoin":"round"},"encoding":{"x":{"field":"x","type":"quantitative","scale":{"domain":[2.2,2.82],"nice":false,"zero":false},"axis":{"values":[2.2,2.3,2.4,2.5,2.6,2.7,2.8],"format":".1f","title":"X","grid":false,"domain":false,"ticks":true,"labelFlush":false,"tickColor":"black","tickWidth":4,"tickSize":17,"labelFont":"Liberation Sans","labelFontSize":25,"labelColor":"black","labelPadding":3,"titleFont":"Liberation Sans","titleFontSize":36,"titleFontWeight":"bold","titleColor":"black","titlePadding":24}},"y":{"field":"y","type":"quantitative","scale":{"domain":[0,0.5],"nice":false,"zero":false},"axis":{"values":[0,0.1,0.2,0.3,0.4,0.5],"format":".1~f","title":"Y","grid":false,"domain":false,"ticks":true,"labelFlush":false,"tickColor":"black","tickWidth":4,"tickSize":17,"labelFont":"Liberation Sans","labelFontSize":25,"labelColor":"black","labelPadding":2,"titleFont":"Liberation Sans","titleFontSize":36,"titleFontWeight":"bold","titleColor":"black","titlePadding":12}},"fill":{"field":"l","type":"ordinal","legend":null,"scale":{"domain":[0,1,2,3,4,5,6,7,8,9,10,11,12,13,14,15],"range":["#000080","#0030ff","#0058ff","#0080ff","#00c4ff","#00ffff","#48ffb8","#70ff90","#90ff70","#b4ff40","#dcff20","#fff000","#ffd000","#ffa800","#ff8000","#0000ff"]}},"detail":{"field":"p"},"order":{"value":null}}},
{"data":{"name":"lines"},"mark":{"type":"line","clip":true,"stroke":"black","strokeWidth":1.6},"encoding":{"x":{"field":"x","type":"quantitative"},"y":{"field":"y","type":"quantitative"},"detail":{"field":"p"},"order":{"value":null}}},
{"data":{"name":"shocks"},"transform":[{"filter":"datum.p!='right'"}],"mark":{"type":"line","clip":true,"stroke":"black","strokeWidth":5.5,"strokeJoin":"round"},"encoding":{"x":{"field":"x","type":"quantitative"},"y":{"field":"y","type":"quantitative"},"detail":{"field":"p"},"order":{"value":null}}},
{"data":{"name":"shocks"},"transform":[{"filter":"datum.p=='right'"}],"mark":{"type":"line","clip":true,"stroke":"black","strokeWidth":7.5,"strokeJoin":"round"},"encoding":{"x":{"field":"x","type":"quantitative"},"y":{"field":"y","type":"quantitative"},"detail":{"field":"p"},"order":{"value":null}}},
{"mark":{"type":"rect","fill":null,"stroke":"black","strokeWidth":4},"encoding":{"x":{"datum":2.2},"x2":{"datum":2.82},"y":{"datum":0},"y2":{"datum":0.5}}}
]}
